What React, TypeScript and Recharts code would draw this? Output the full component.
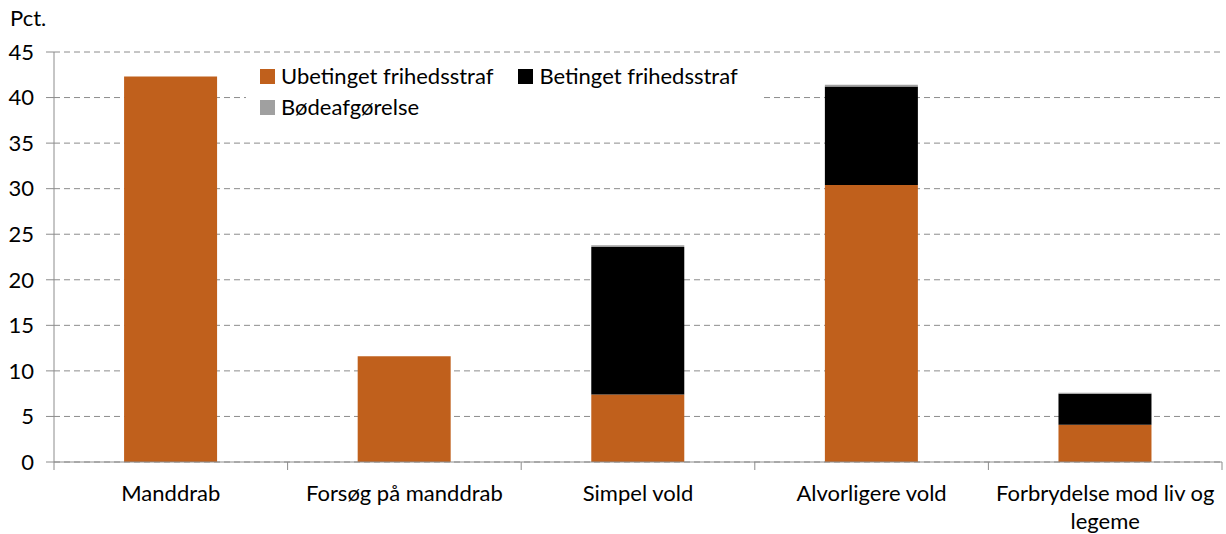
import { BarChart, Bar, XAxis, YAxis, CartesianGrid } from 'recharts';

const categories = ['Manddrab', 'Forsøg på manddrab', 'Simpel vold', 'Alvorligere vold', 'Forbrydelse mod liv og legeme'];
const tickLines: Record<string, string[]> = {
  'Forbrydelse mod liv og legeme': ['Forbrydelse mod liv og', 'legeme'],
};
const ubetinget = [42.3, 11.6, 7.4, 30.4, 4.1];
const betinget = [0, 0, 16.2, 10.8, 3.4];
const boede = [0, 0, 0.2, 0.2, 0.1];
const yTicks = [0, 5, 10, 15, 20, 25, 30, 35, 40, 45];

const ORANGE = '#C0601C';
const BLACK = '#000000';
const GREY = '#A0A0A0';
const FONT = 'Lato, "Open Sans", sans-serif';
const FS = 22;

const data = categories.map((name, i) => ({
  name,
  ubetinget: ubetinget[i],
  betinget: betinget[i],
  boede: boede[i],
}));

const W = 1226;
const H = 534;
const M = { top: 52, right: 4, left: 0, bottom: 10 };
const Y_W = 54;
const BAND = (W - M.left - M.right - Y_W) / categories.length;

function XTick(props: any) {
  const { x, y, payload, index } = props;
  const lines = tickLines[payload.value] || [payload.value];
  const left = x - BAND / 2;
  return (
    <g>
      <line x1={left} x2={left} y1={y - 8} y2={y} stroke="#8c8c8c" />
      {index === categories.length - 1 && (
        <line x1={x + BAND / 2} x2={x + BAND / 2} y1={y - 8} y2={y} stroke="#8c8c8c" />
      )}
      <text x={x} y={y + 31} textAnchor="middle" fontSize={FS} fill="#000" fontFamily={FONT}>
        {lines.map((l, k) => (
          <tspan key={k} x={x} dy={k === 0 ? 0 : 28}>
            {l}
          </tspan>
        ))}
      </text>
    </g>
  );
}

function LegendItem({ color, label }: { color: string; label: string }) {
  return (
    <div style={{ display: 'flex', alignItems: 'center' }}>
      <span style={{ width: 15, height: 15, background: color, display: 'inline-block', marginRight: 6 }} />
      <span>{label}</span>
    </div>
  );
}

export default function App() {
  return (
    <div style={{ position: 'absolute', left: 0, top: 0, width: W, height: H, background: '#fff', fontFamily: FONT }}>
      <div style={{ position: 'absolute', left: 10, top: 4, fontSize: FS, color: '#000' }}>Pct.</div>
      <BarChart width={W} height={H} data={data} margin={M} barCategoryGap="30%">
        <CartesianGrid vertical={false} stroke="#8c8c8c" strokeDasharray="6 4" />
        <XAxis
          dataKey="name"
          interval={0}
          stroke="#8c8c8c"
          tickLine={false}
          height={62}
          tick={<XTick />}
        />
        <YAxis
          width={Y_W}
          domain={[0, 45]}
          ticks={yTicks}
          stroke="#8c8c8c"
          tickSize={8}
          tickMargin={12}
          tick={{ fontSize: FS, fill: '#000', fontFamily: FONT }}
        />
        <Bar dataKey="ubetinget" stackId="a" fill={ORANGE} isAnimationActive={false} />
        <Bar dataKey="betinget" stackId="a" fill={BLACK} isAnimationActive={false} />
        <Bar dataKey="boede" stackId="a" fill={GREY} isAnimationActive={false} />
      </BarChart>
      <div
        style={{
          position: 'absolute',
          left: 246,
          top: 60,
          width: 516,
          height: 66,
          background: '#fff',
          fontSize: FS,
          lineHeight: '28px',
          color: '#000',
          padding: '2px 0 0 14px',
          boxSizing: 'border-box',
        }}
      >
        <div style={{ display: 'flex', gap: 25 }}>
          <LegendItem color={ORANGE} label="Ubetinget frihedsstraf" />
          <LegendItem color={BLACK} label="Betinget frihedsstraf" />
        </div>
        <div style={{ marginTop: 3 }}>
          <LegendItem color={GREY} label="Bødeafgørelse" />
        </div>
      </div>
    </div>
  );
}
